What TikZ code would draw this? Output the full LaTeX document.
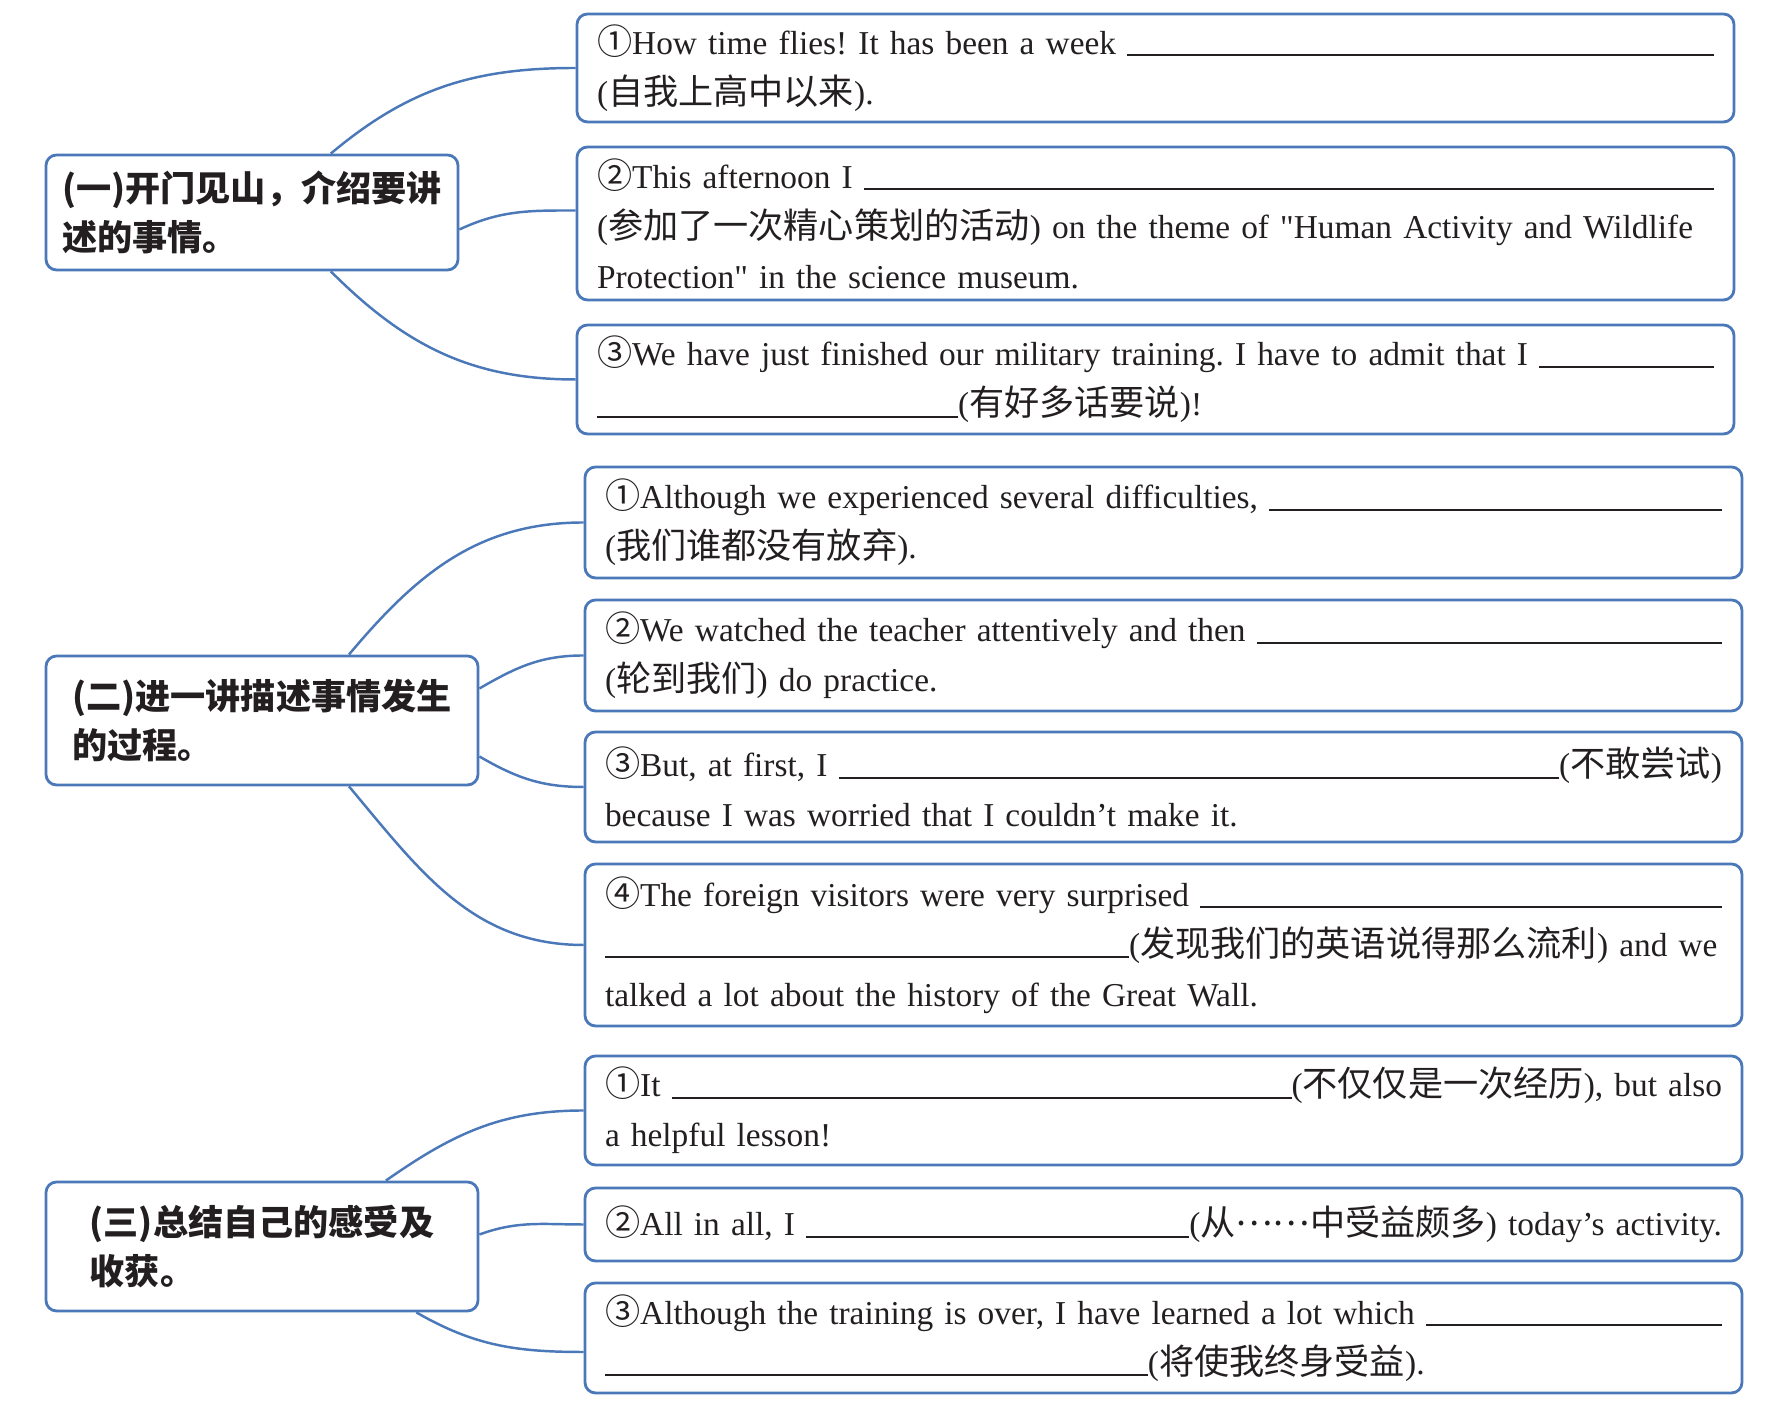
\documentclass[tikz,border=0pt]{standalone}
\usepackage{fontspec}
\setmainfont{Liberation Serif}[Scale=0.95,Ligatures=TeXOff]
\newfontfamily\zh{Noto Sans CJK SC}
\usetikzlibrary{calc}
\definecolor{mapblue}{HTML}{4A78B8}
\definecolor{ink}{HTML}{231F20}
\newcommand{\fillblank}{\leavevmode\leaders\hrule height 0pt depth 0.6pt\hskip 0pt plus 1filll\kern0pt}
\newcommand{\blankline}[1]{\rule[-0.6pt]{#1}{0.6pt}}
\frenchspacing

\begin{document}
\begin{tikzpicture}[
  topic/.style={draw=mapblue,line width=0.8pt,rounded corners=3pt,text=ink,align=left,
    font=\zh\bfseries\fontsize{10}{13.8}\selectfont},
  sent/.style={draw=mapblue,line width=0.8pt,rounded corners=3pt,text=ink,align=left,
    text width=11.17cm,inner xsep=0.2cm,inner ysep=0pt,font=\fontsize{10}{14.2}\selectfont},
  link/.style={mapblue,line width=0.7pt}]
  \useasboundingbox (0,0) rectangle (17.77,-14.07);

  \node[topic,minimum width=4.12cm,minimum height=1.15cm] (g1) at (2.52,-2.125) {(一)开门见山，介绍要讲\\述的事情。};
  \node[sent,minimum height=1.08cm] (g1a) at (11.555,-0.68) {{\zh ①}How time flies! It has been a week \fillblank\\({\zh 自我上高中以来}).};
  \node[sent,minimum height=1.53cm] (g1b) at (11.555,-2.235) {{\zh ②}This afternoon I \fillblank\\({\zh 参加了一次精心策划的活动}) on the theme of "Human Activity and Wildlife\\Protection" in the science museum.};
  \node[sent,minimum height=1.09cm] (g1c) at (11.555,-3.795) {{\zh ③}We have just finished our military training. I have to admit that I \fillblank\\\blankline{3.61cm}({\zh 有好多话要说})!};

  \node[topic,minimum width=4.32cm,minimum height=1.29cm] (g2) at (2.62,-7.205) {(二)进一讲描述事情发生\\的过程。};
  \node[sent,minimum height=1.11cm] (g2a) at (11.635,-5.225) {{\zh ①}Although we experienced several difficulties, \fillblank\\({\zh 我们谁都没有放弃}).};
  \node[sent,minimum height=1.11cm] (g2b) at (11.635,-6.555) {{\zh ②}We watched the teacher attentively and then \fillblank\\({\zh 轮到我们}) do practice.};
  \node[sent,minimum height=1.10cm] (g2c) at (11.635,-7.87) {{\zh ③}But, at first, I \fillblank({\zh 不敢尝试})\\because I was worried that I couldn’t make it.};
  \node[sent,minimum height=1.62cm] (g2d) at (11.635,-9.45) {{\zh ④}The foreign visitors were very surprised \fillblank\\\blankline{5.24cm}({\zh 发现我们的英语说得那么流利}) and we\\talked a lot about the history of the Great Wall.};

  \node[topic,minimum width=4.32cm,minimum height=1.29cm] (g3) at (2.62,-12.465) {(三)总结自己的感受及\\收获。};
  \node[sent,minimum height=1.09cm] (g3a) at (11.635,-11.105) {{\zh ①}It \fillblank({\zh 不仅仅是一次经历}), but also\\a helpful lesson!};
  \node[sent,minimum height=0.73cm] (g3b) at (11.635,-12.245) {{\zh ②}All in all, I \fillblank({\zh 从\raisebox{0.3em}{……}中受益颇多}) today’s activity.};
  \node[sent,minimum height=1.10cm] (g3c) at (11.635,-13.38) {{\zh ③}Although the training is over, I have learned a lot which \fillblank\\\blankline{5.43cm}({\zh 将使我终身受益}).};

  \draw[link] ($(g1.north west)!.69!(g1.north east)$) to[out=40,in=180] (g1a.west);
  \draw[link] ([yshift=-0.17cm]g1.east) to[out=25,in=180] ([yshift=0.13cm]g1b.west);
  \draw[link] ($(g1.south west)!.69!(g1.south east)$) to[out=-45,in=180] (g1c.west);

  \draw[link] ($(g2.north west)!.7!(g2.north east)$) to[out=50,in=180] (g2a.west);
  \draw[link] ([yshift=0.32cm]g2.east) to[out=30,in=180] (g2b.west);
  \draw[link] ([yshift=-0.36cm]g2.east) to[out=-30,in=180] (g2c.west);
  \draw[link] ($(g2.south west)!.7!(g2.south east)$) to[out=-50,in=180] (g2d.west);

  \draw[link] ($(g3.north west)!.785!(g3.north east)$) to[out=35,in=180] (g3a.west);
  \draw[link] ([yshift=0.12cm]g3.east) to[out=20,in=180] (g3b.west);
  \draw[link] ($(g3.south west)!.855!(g3.south east)$) to[out=-30,in=180] ([yshift=-0.14cm]g3c.west);
\end{tikzpicture}
\end{document}
